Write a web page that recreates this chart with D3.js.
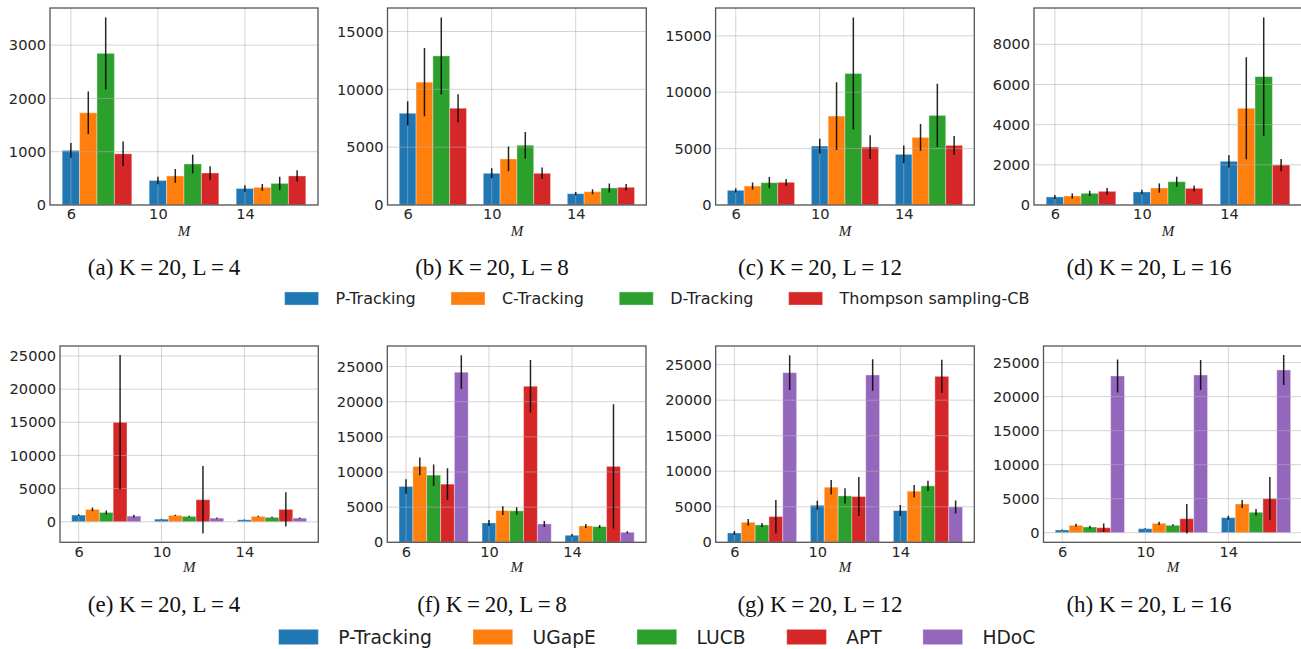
<!DOCTYPE html>
<html>
<head>
<meta charset="utf-8">
<script src="https://cdn.jsdelivr.net/npm/d3@7"></script>
<style>
  html, body { margin: 0; padding: 0; background: #fff; }
  svg { display: block; }
</style>
</head>
<body>
<div id="chart"></div>
<script>
// ---------------------------------------------------------------------------
// DATA (mean +- std per method, M = 6, 10, 14)
// ---------------------------------------------------------------------------
const mValues = [6, 10, 14];

const topMethods = ["P-Tracking", "C-Tracking", "D-Tracking", "Thompson sampling-CB"];
const bottomMethods = ["P-Tracking", "UGapE", "LUCB", "APT", "HDoC"];

const colors = ["#1f77b4", "#ff7f0e", "#2ca02c", "#d62728", "#9467bd"];

// rows = method, columns = M
const aMean = [[1025, 460, 310], [1730, 545, 330], [2845, 770, 405], [960, 600, 545]];
const aErr  = [[140, 70, 60], [400, 130, 65], [675, 175, 125], [230, 125, 105]];

const bMean = [[7930, 2740, 980], [10615, 3980, 1155], [12890, 5165, 1470], [8365, 2740, 1530]];
const bErr  = [[1050, 430, 140], [2950, 1070, 215], [3330, 1150, 390], [1210, 500, 275]];

const cMean = [[1300, 5225, 4490], [1680, 7885, 5995], [1980, 11660, 7940], [2010, 5135, 5285]];
const cErr  = [[190, 650, 780], [310, 3000, 1195], [500, 4975, 2800], [295, 1060, 825]];

const dMean = [[400, 650, 2175], [450, 845, 4815], [580, 1160, 6390], [680, 830, 1990]];
const dErr  = [[100, 115, 305], [130, 230, 2540], [130, 250, 2950], [165, 140, 305]];

const eMean = [[1010, 400, 300], [1870, 960, 810], [1410, 810, 660], [15000, 3330, 1870], [860, 555, 555]];
const eErr  = [[120, 60, 50], [280, 100, 100], [280, 100, 100], [10150, 5075, 2570], [200, 80, 80]];

const fMean = [[7940, 2755, 1000], [10790, 4515, 2330], [9555, 4470, 2235], [8270, 22195, 10790], [24190, 2615, 1425]];
const fErr  = [[1045, 430, 190], [1260, 620, 285], [1500, 500, 240], [2260, 3730, 8840], [2400, 430, 160]];

const gMean = [[1315, 5215, 4465], [2820, 7755, 7190], [2445, 6530, 7940], [3620, 6440, 23355], [23870, 23545, 4980]];
const gErr  = [[260, 630, 780], [470, 1030, 870], [280, 1060, 705], [2330, 2750, 2325], [2440, 2230, 920]];

const hMean = [[395, 590, 2210], [1080, 1375, 4225], [835, 1080, 3000], [735, 2060, 5010], [23035, 23180, 23920]];
const hErr  = [[60, 80, 295], [220, 245, 590], [200, 150, 490], [615, 2160, 3170], [2430, 2210, 2210]];

const captions = [
  "(a) K=20, L=4", "(b) K=20, L=8", "(c) K=20, L=12", "(d) K=20, L=16",
  "(e) K=20, L=4", "(f) K=20, L=8", "(g) K=20, L=12", "(h) K=20, L=16"
];

// ---------------------------------------------------------------------------
// LAYOUT
// ---------------------------------------------------------------------------
const W = 1301, H = 649;

const rows = [
  { top: 8,   bottom: 205,   capY: 275, mY: 236, barW: 0.8,   methods: topMethods,
    frames: [[50, 318], [387.5, 646.3], [715.6, 974.3], [1034, 1302]],
    legendY: 298.5, legendFs: 16, legendCx: 657 },
  { top: 346, bottom: 542.3, capY: 612, mY: 572, barW: 2 / 3, methods: bottomMethods,
    frames: [[60, 318.3], [387.3, 646], [715.7, 974.3], [1043.5, 1302.4]],
    legendY: 637, legendFs: 18.7, legendCx: 657 }
];
const capCx = [164, 492, 820, 1149];

const panelData = [
  [aMean, aErr], [bMean, bErr], [cMean, cErr], [dMean, dErr],
  [eMean, eErr], [fMean, fErr], [gMean, gErr], [hMean, hErr]
];

const svg = d3.select("#chart").append("svg")
  .attr("width", W).attr("height", H)
  .attr("viewBox", `0 0 ${W} ${H}`);

svg.append("rect").attr("width", W).attr("height", H).attr("fill", "#fff");

const clipRoot = svg.append("defs");

panelData.forEach(([means, errs], pi) => {
  const row = rows[Math.floor(pi / 4)];
  const col = pi % 4;
  const [fx0, fx1] = row.frames[col];
  const nM = means.length;
  const w = row.barW;

  // x limits like matplotlib autoscale (5% margin)
  const xLo = mValues[0] - w / 2;
  const xHi = mValues[mValues.length - 1] + (nM - 1) * w + w / 2;
  const xPad = 0.05 * (xHi - xLo);
  const x = d3.scaleLinear().domain([xLo - xPad, xHi + xPad]).range([fx0, fx1]);

  // y limits: 0 sticky unless error bars go below
  let lo = 0, hi = 0;
  means.forEach((r, i) => r.forEach((v, j) => {
    lo = Math.min(lo, v - errs[i][j]);
    hi = Math.max(hi, v + errs[i][j]);
  }));
  if (lo < 0) {
    const s = hi - lo;
    lo -= 0.05 * s; hi += 0.05 * s;
  } else {
    hi += 0.05 * hi;
  }
  const y = d3.scaleLinear().domain([lo, hi]).range([row.bottom, row.top]);

  const clipId = "clip" + pi;
  clipRoot.append("clipPath").attr("id", clipId)
    .append("rect").attr("x", fx0).attr("y", row.top)
    .attr("width", fx1 - fx0).attr("height", row.bottom - row.top);

  const g = svg.append("g");
  const plot = g.append("g").attr("clip-path", `url(#${clipId})`);

  // bars
  means.forEach((r, i) => {
    plot.selectAll(null)
      .data(r)
      .enter().append("rect")
      .attr("x", (d, j) => x(mValues[j] + i * w - w / 2))
      .attr("width", x(w) - x(0))
      .attr("y", d => y(Math.max(0, d)))
      .attr("height", d => Math.abs(y(0) - y(d)))
      .attr("fill", colors[i])
      .attr("stroke", "#fff")
      .attr("stroke-opacity", 0.35)
      .attr("stroke-width", 1);
  });

  // grid on top (matplotlib style, light)
  const yTicks = y.ticks(5);
  plot.selectAll(null).data(yTicks).enter().append("line")
    .attr("x1", fx0).attr("x2", fx1)
    .attr("y1", d => y(d)).attr("y2", d => y(d))
    .attr("stroke", "#b0b0b0").attr("stroke-opacity", 0.55).attr("stroke-width", 1);
  plot.selectAll(null).data(mValues).enter().append("line")
    .attr("x1", d => x(d)).attr("x2", d => x(d))
    .attr("y1", row.top).attr("y2", row.bottom)
    .attr("stroke", "#b0b0b0").attr("stroke-opacity", 0.55).attr("stroke-width", 1);

  // error bars
  means.forEach((r, i) => {
    plot.selectAll(null)
      .data(r)
      .enter().append("line")
      .attr("x1", (d, j) => x(mValues[j] + i * w))
      .attr("x2", (d, j) => x(mValues[j] + i * w))
      .attr("y1", (d, j) => y(d - errs[i][j]))
      .attr("y2", (d, j) => y(d + errs[i][j]))
      .attr("stroke", "#000").attr("stroke-opacity", 0.85).attr("stroke-width", 1.5);
  });

  // frame
  g.append("rect")
    .attr("x", fx0).attr("y", row.top)
    .attr("width", fx1 - fx0).attr("height", row.bottom - row.top)
    .attr("fill", "none").attr("stroke", "#555").attr("stroke-width", 1.3);

  // axes (labels only, no tick marks)
  const xAxis = g.append("g")
    .attr("transform", `translate(0, ${row.bottom})`)
    .call(d3.axisBottom(x).tickValues(mValues).tickSize(0).tickPadding(4));
  const yAxis = g.append("g")
    .attr("transform", `translate(${fx0}, 0)`)
    .call(d3.axisLeft(y).ticks(5).tickFormat(d3.format("d")).tickSize(0).tickPadding(4));
  [xAxis, yAxis].forEach(a => {
    a.select(".domain").remove();
    a.selectAll("text")
      .attr("font-family", "DejaVu Sans")
      .attr("font-size", 14.6)
      .attr("fill", "#262626");
  });

  // x label
  g.append("text")
    .attr("x", (fx0 + fx1) / 2).attr("y", row.mY)
    .attr("text-anchor", "middle")
    .attr("font-family", "Liberation Serif")
    .attr("font-style", "italic")
    .attr("font-size", 15)
    .attr("fill", "#222")
    .text("M");

  // caption (LaTeX-like: thin math spacing around "=")
  g.append("text")
    .attr("x", capCx[col]).attr("y", row.capY)
    .attr("text-anchor", "middle")
    .attr("font-family", "Liberation Serif")
    .attr("font-size", 23)
    .attr("fill", "#111")
    .text(captions[pi].replace(/=/g, "\u2009=\u2009"));
});

// ---------------------------------------------------------------------------
// LEGENDS
// ---------------------------------------------------------------------------
rows.forEach(row => {
  const fs = row.legendFs;
  const patchW = 2.125 * fs, patchH = 0.82 * fs;
  const gapIn = 1.06 * fs, gapOut = 2.2 * fs;
  const lg = svg.append("g");

  const items = row.methods.map((name, i) => {
    const it = lg.append("g");
    it.append("rect")
      .attr("width", patchW).attr("height", patchH)
      .attr("y", row.legendY - patchH / 2)
      .attr("fill", colors[i])
      .attr("stroke", "#fff").attr("stroke-opacity", 0.35);
    const t = it.append("text")
      .attr("x", patchW + gapIn)
      .attr("y", row.legendY)
      .attr("dy", "0.35em")
      .attr("font-family", "DejaVu Sans")
      .attr("font-size", fs)
      .attr("fill", "#222")
      .text(name);
    return { it, w: patchW + gapIn + t.node().getComputedTextLength() };
  });

  const total = d3.sum(items, d => d.w) + gapOut * (items.length - 1);
  let cx = row.legendCx - total / 2;
  items.forEach(d => {
    d.it.attr("transform", `translate(${cx}, 0)`);
    cx += d.w + gapOut;
  });
});
</script>
</body>
</html>
